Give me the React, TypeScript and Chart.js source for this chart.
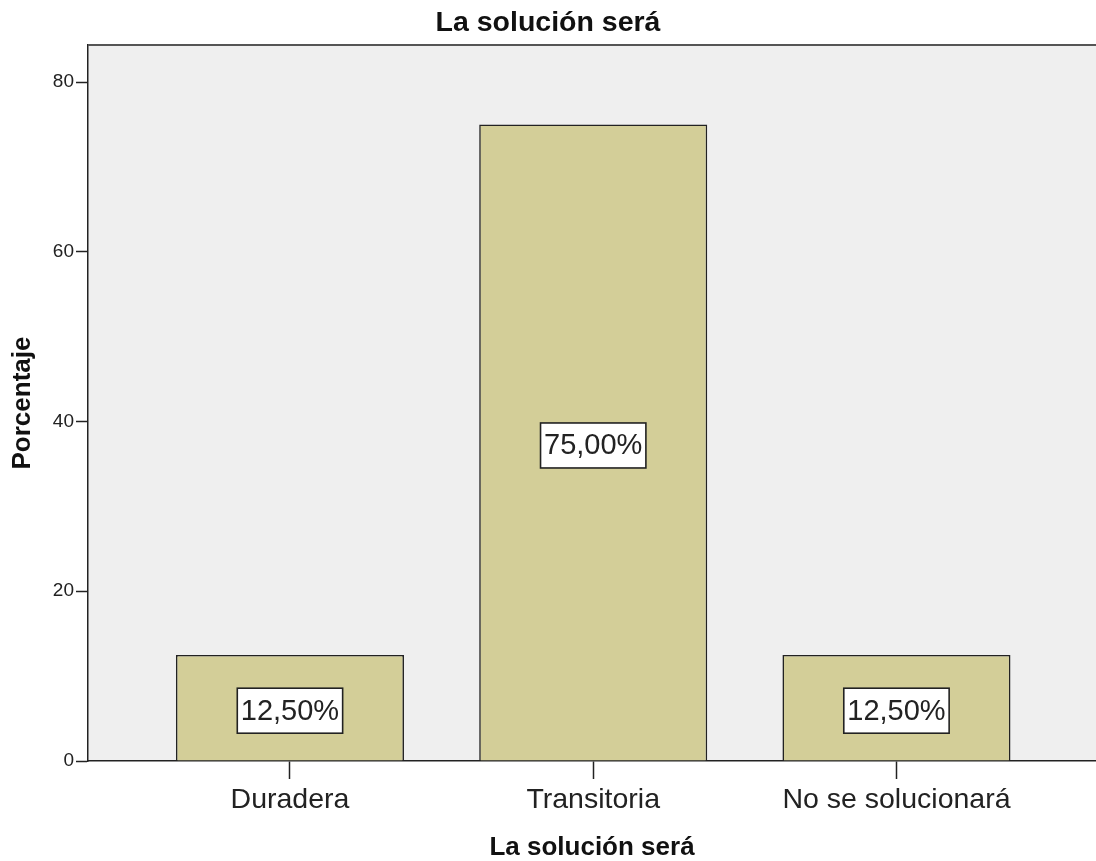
import React, { useEffect, useRef } from "react";
import { Chart, registerables } from "chart.js";

Chart.register(...registerables);

const categories = ["Duradera", "Transitoria", "No se solucionará"];
const percentages = [12.5, 75.0, 12.5];
const yTicks = [0, 20, 40, 60, 80];
const chartTitle = "La solución será";
const xTitle = "La solución será";
const yTitle = "Porcentaje";

const FONT = '"Liberation Sans", Arial, sans-serif';

const bgPlugin = {
  id: "plotBg",
  beforeDraw(chart: any) {
    const { ctx, chartArea: a } = chart;
    ctx.save();
    ctx.fillStyle = "#EFEFEF";
    ctx.fillRect(a.left, a.top, a.right - a.left, a.bottom - a.top);
    ctx.restore();
  },
  afterDraw(chart: any) {
    const { ctx, chartArea: a } = chart;
    ctx.save();
    ctx.strokeStyle = "#555";
    ctx.lineWidth = 2;
    ctx.beginPath();
    ctx.moveTo(a.left, a.top);
    ctx.lineTo(a.right, a.top);
    ctx.stroke();
    ctx.restore();
  },
};

const labelPlugin = {
  id: "valueBoxes",
  afterDatasetsDraw(chart: any) {
    const { ctx } = chart;
    const meta = chart.getDatasetMeta(0);
    const ds = chart.data.datasets[0];
    ctx.save();
    ctx.font = `29px ${FONT}`;
    ctx.textAlign = "center";
    ctx.textBaseline = "middle";
    meta.data.forEach((el: any, i: number) => {
      const v = ds.data[i].y as number;
      const text = v.toFixed(2).replace(".", ",") + "%";
      const cx = el.x;
      const cy = (el.y + el.base) / 2 + 3;
      const w = ctx.measureText(text).width + 7;
      const h = 45;
      ctx.fillStyle = "#ffffff";
      ctx.fillRect(cx - w / 2, cy - h / 2, w, h);
      ctx.strokeStyle = "#222";
      ctx.lineWidth = 1.6;
      ctx.strokeRect(cx - w / 2, cy - h / 2, w, h);
      ctx.fillStyle = "#222";
      ctx.fillText(text, cx, cy + 1);
    });
    ctx.restore();
  },
};

export default function App() {
  const canvasRef = useRef<HTMLCanvasElement | null>(null);

  useEffect(() => {
    if (!canvasRef.current) return;
    const chart = new Chart(canvasRef.current, {
      type: "bar",
      data: {
        datasets: [
          {
            label: yTitle,
            data: categories.map((c, i) => ({ x: i, y: percentages[i] })),
            backgroundColor: "#D3CE98",
            borderColor: "#222",
            borderWidth: 1.6,
            barPercentage: 0.752,
            categoryPercentage: 1,
          },
        ],
      },
      options: {
        responsive: false,
        animation: false,
        layout: { padding: 0 },
        plugins: {
          legend: { display: false },
          tooltip: { enabled: false },
          title: {
            display: true,
            text: chartTitle,
            color: "#111",
            font: { family: FONT, size: 28.5, weight: "bold", lineHeight: 1.1 },
            padding: { top: 7, bottom: 6.65 },
          },
        },
        scales: {
          x: {
            type: "linear",
            min: -0.666,
            max: 2.658,
            offset: false,
            border: { color: "#222", width: 1.5 },
            grid: { offset: false, drawOnChartArea: false, tickLength: 18, color: "#222", tickWidth: 1.5 },
            ticks: {
              font: { family: FONT, size: 28.5 },
              color: "#222",
              padding: 4,
              autoSkip: false,
              maxRotation: 0,
              callback: (v: any) => categories[v as number] ?? "",
            },
            afterBuildTicks: (scale: any) => {
              scale.ticks = categories.map((_, i) => ({ value: i }));
            },
            afterFit: (scale: any) => {
              scale.height = 100;
            },
            title: {
              display: true,
              text: xTitle,
              color: "#111",
              font: { family: FONT, size: 26, weight: "bold", lineHeight: 1 },
              padding: { top: 0, bottom: 0 },
            },
          },
          y: {
            min: 0,
            max: 84.36,
            border: { color: "#222", width: 1.5 },
            grid: { drawOnChartArea: false, tickLength: 12, color: "#222", tickWidth: 1.5 },
            ticks: {
              font: { family: FONT, size: 19 },
              color: "#222",
              padding: 2,
            },
            afterBuildTicks: (scale: any) => {
              scale.ticks = yTicks.map((v) => ({ value: v }));
            },
            afterFit: (scale: any) => {
              scale.width = 88;
            },
            title: {
              display: true,
              text: yTitle,
              color: "#111",
              font: { family: FONT, size: 26, weight: "bold", lineHeight: 1.2 },
              padding: { top: 7, bottom: 0 },
            },
          },
        },
      },
      plugins: [bgPlugin, labelPlugin],
    } as any);
    return () => chart.destroy();
  }, []);

  return (
    <div style={{ position: "absolute", left: 0, top: 0, width: 1096, height: 861, background: "#fff" }}>
      <canvas ref={canvasRef} width={1096} height={861} />
    </div>
  );
}
